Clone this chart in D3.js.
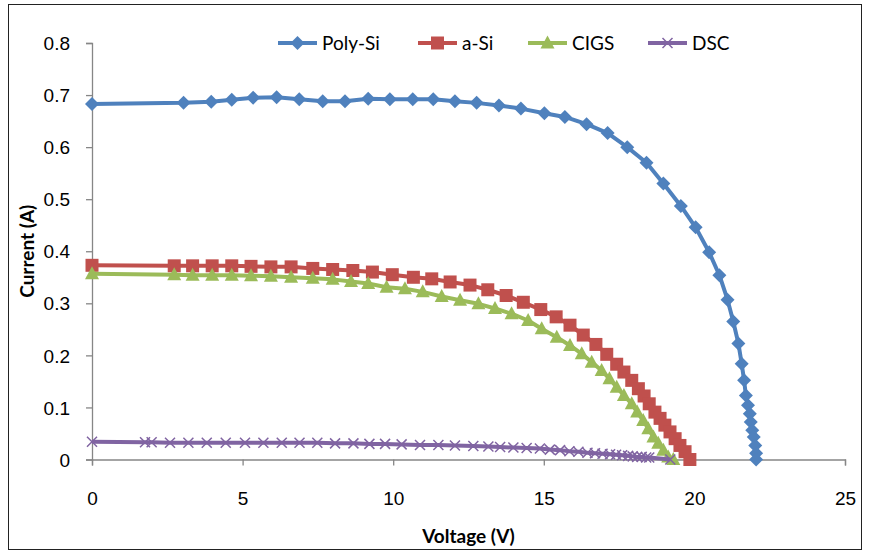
<!DOCTYPE html>
<html>
<head>
<meta charset="utf-8">
<script src="https://cdn.jsdelivr.net/npm/d3@7"></script>
<style>
    body { margin: 0; background: #fff; }
    svg { display: block; font-family: Lato, "Open Sans", sans-serif; }
    .tick text { font-size: 19px; fill: #000; }
    .label { font-size: 19px; font-weight: bold; fill: #000; }
    .legend text { font-size: 19px; fill: #000; }
</style>
</head>
<body>
<svg></svg>
<script>
// series names and colours
var seriesNames = ["Poly-Si", "a-Si", "CIGS", "DSC"];
var seriesColors = ["#4F81BD", "#C0504D", "#9BBB59", "#8064A2"];
var seriesMarkers = ["diamond", "square", "triangle", "cross"];

var xTicks = [0, 5, 10, 15, 20, 25];
var yTicks = [0, 0.1, 0.2, 0.3, 0.4, 0.5, 0.6, 0.7, 0.8];

// Poly-Si
var polyV = [0, 3.04, 3.96, 4.64, 5.35, 6.13, 6.88, 7.66, 8.4, 9.17, 9.89, 10.65, 11.33, 12.05, 12.77, 13.51, 14.24, 15.02, 15.70, 16.42, 17.12, 17.77, 18.41, 18.97, 19.55, 20.04, 20.49, 20.83, 21.1, 21.29, 21.46, 21.57, 21.65, 21.71, 21.78, 21.84, 21.87, 21.92, 21.97, 22.02, 22.05, 22.05];
var polyI = [0.683, 0.685, 0.687, 0.691, 0.695, 0.696, 0.692, 0.688, 0.688, 0.693, 0.692, 0.692, 0.692, 0.688, 0.685, 0.680, 0.674, 0.665, 0.658, 0.644, 0.627, 0.600, 0.570, 0.530, 0.487, 0.446, 0.398, 0.354, 0.307, 0.265, 0.223, 0.184, 0.152, 0.123, 0.104, 0.088, 0.072, 0.056, 0.043, 0.027, 0.012, 0.0];

// a-Si
var aSiV = [0, 2.73, 3.34, 3.99, 4.64, 5.28, 5.94, 6.61, 7.33, 7.99, 8.66, 9.31, 9.97, 10.67, 11.28, 11.89, 12.55, 13.14, 13.75, 14.32, 14.9, 15.41, 15.87, 16.31, 16.73, 17.09, 17.42, 17.66, 17.92, 18.14, 18.33, 18.5, 18.69, 18.86, 19.02, 19.19, 19.36, 19.52, 19.69, 19.85];
var aSiI = [0.373, 0.372, 0.372, 0.372, 0.372, 0.371, 0.370, 0.370, 0.367, 0.365, 0.363, 0.360, 0.355, 0.350, 0.347, 0.341, 0.335, 0.326, 0.315, 0.302, 0.288, 0.274, 0.258, 0.239, 0.221, 0.202, 0.183, 0.168, 0.152, 0.136, 0.122, 0.107, 0.091, 0.079, 0.066, 0.053, 0.040, 0.027, 0.015, 0.0];

// CIGS
var cigsV = [0, 2.73, 3.34, 3.99, 4.64, 5.28, 5.94, 6.61, 7.33, 7.99, 8.6, 9.17, 9.78, 10.39, 10.98, 11.61, 12.22, 12.83, 13.38, 13.93, 14.48, 14.93, 15.43, 15.87, 16.26, 16.59, 16.92, 17.18, 17.42, 17.66, 17.92, 18.1, 18.3, 18.47, 18.64, 18.8, 18.97, 19.13, 19.3];
var cigsI = [0.357, 0.355, 0.354, 0.354, 0.354, 0.353, 0.352, 0.350, 0.348, 0.346, 0.342, 0.338, 0.331, 0.328, 0.322, 0.313, 0.306, 0.299, 0.290, 0.280, 0.267, 0.251, 0.235, 0.219, 0.203, 0.187, 0.171, 0.155, 0.139, 0.123, 0.107, 0.091, 0.075, 0.059, 0.043, 0.031, 0.018, 0.005, 0.0];

// DSC
var dscV = [0, 1.76, 1.98, 2.59, 3.20, 3.81, 4.44, 5.08, 5.69, 6.30, 6.89, 7.48, 8.07, 8.68, 9.21, 9.73, 10.28, 10.89, 11.5, 12.05, 12.66, 13.16, 13.55, 13.99, 14.43, 14.87, 15.2, 15.54, 15.85, 16.15, 16.45, 16.7, 16.95, 17.2, 17.4, 17.6, 17.8, 17.95, 18.1, 18.25, 18.4, 18.5, 19.2];
var dscI = [0.034, 0.033, 0.033, 0.032, 0.032, 0.032, 0.032, 0.032, 0.032, 0.032, 0.032, 0.032, 0.031, 0.031, 0.030, 0.030, 0.029, 0.028, 0.028, 0.027, 0.026, 0.025, 0.024, 0.023, 0.022, 0.021, 0.019, 0.018, 0.016, 0.015, 0.013, 0.012, 0.011, 0.010, 0.009, 0.008, 0.007, 0.006, 0.005, 0.005, 0.004, 0.004, 0.0];

var zipSeries = function (vs, is) {
    return vs.map(function (v, i) {
        return { v: v, i: is[i] };
    })
}

var allSeries = [
    zipSeries(polyV, polyI),
    zipSeries(aSiV, aSiI),
    zipSeries(cigsV, cigsI),
    zipSeries(dscV, dscI)
];

// marker path centred on 0,0
var markerPath = function (kind) {
    if (kind == "diamond") {
        return "M0,-7L7,0L0,7L-7,0Z";
    } else if (kind == "square") {
        return "M-6.5,-6.5H6.5V6.5H-6.5Z";
    } else if (kind == "triangle") {
        return "M0,-7.5L7,5.5L-7,5.5Z";
    }
    return "M-5,-5L5,5M-5,5L5,-5";
}

var drawMarkers = function (g, kind, color) {
    g.attr("d", markerPath(kind))
    if (kind == "cross") {
        g.attr("fill", "none")
            .attr("stroke", color)
            .attr("stroke-width", 1.5)
    } else {
        g.attr("fill", color)
            .attr("stroke", "none")
    }
}

var initGraph = function () {
    var screen = { width: 869, height: 551 };
    var margins = { left: 92, right: 24, top: 43, bottom: 91 };
    var graph = {
        width: 845 - margins.left,
        height: 459.5 - margins.top
    };

    var svg = d3.select("svg")
        .attr("width", screen.width)
        .attr("height", screen.height)

    // outer chart frame
    svg.append("rect")
        .attr("x", 8.5)
        .attr("y", 4.5)
        .attr("width", 853)
        .attr("height", 545)
        .attr("fill", "none")
        .attr("stroke", "#222")
        .attr("stroke-width", 1)

    var xScale = d3.scaleLinear()
        .domain([0, 25])
        .range([0, graph.width])

    var yScale = d3.scaleLinear()
        .domain([0, 0.8])
        .range([graph.height, 0])

    var xAxis = d3.axisBottom(xScale)
        .tickValues(xTicks)
        .tickSize(6)
        .tickPadding(26)
        .tickFormat(d3.format("d"))

    var yAxis = d3.axisLeft(yScale)
        .tickValues(yTicks)
        .tickSize(6)
        .tickPadding(16)
        .tickFormat(function (d) { return d == 0 ? "0" : d3.format(".1f")(d); })

    var xg = svg.append("g")
        .attr("transform", "translate(" + margins.left + "," + (margins.top + graph.height) + ")")
        .call(xAxis)
    var yg = svg.append("g")
        .attr("transform", "translate(" + margins.left + "," + margins.top + ")")
        .call(yAxis)

    svg.selectAll(".domain").attr("stroke", "#868686").attr("stroke-width", 1.3)
    svg.selectAll(".tick line").attr("stroke", "#868686").attr("stroke-width", 1.3)
    svg.selectAll(".tick text").attr("fill", "#000")
    yg.selectAll(".tick text").attr("dy", "0.35em")

    var target = svg.append("g")
        .attr("transform", "translate(" + margins.left + "," + margins.top + ")")

    var lineGenerator = d3.line()
        .x(function (p) { return xScale(p.v); })
        .y(function (p) { return yScale(p.i); })

    var groups = target.selectAll("g.series")
        .data(allSeries)
        .enter()
        .append("g")
        .classed("series", true)

    groups.append("path")
        .attr("d", lineGenerator)
        .attr("fill", "none")
        .attr("stroke", function (d, k) { return seriesColors[k]; })
        .attr("stroke-width", 4)
        .attr("stroke-linejoin", "round")

    groups.each(function (series, k) {
        d3.select(this)
            .selectAll("path.marker")
            .data(series)
            .enter()
            .append("path")
            .classed("marker", true)
            .attr("transform", function (p) {
                return "translate(" + xScale(p.v) + "," + yScale(p.i) + ")";
            })
            .call(drawMarkers, seriesMarkers[k], seriesColors[k])
    })

    // legend
    var legendX = [278, 418, 528, 648];
    var legend = svg.append("g").classed("legend", true)
    seriesNames.forEach(function (name, k) {
        var item = legend.append("g")
            .attr("transform", "translate(" + legendX[k] + ",43)")
        item.append("line")
            .attr("x1", 0).attr("x2", 39)
            .attr("stroke", seriesColors[k])
            .attr("stroke-width", 4)
        item.append("path")
            .attr("transform", "translate(19.5,0)")
            .call(drawMarkers, seriesMarkers[k], seriesColors[k])
        item.append("text")
            .attr("x", 44)
            .attr("dy", "0.35em")
            .text(name)
    })

    // axis titles
    svg.append("text")
        .classed("label", true)
        .attr("text-anchor", "middle")
        .attr("x", margins.left + graph.width / 2)
        .attr("y", 543)
        .text("Voltage (V)")

    svg.append("text")
        .classed("label", true)
        .attr("text-anchor", "middle")
        .attr("transform", "translate(34," + (margins.top + graph.height / 2) + ") rotate(-90)")
        .text("Current (A)")
}

initGraph();
</script>
</body>
</html>
